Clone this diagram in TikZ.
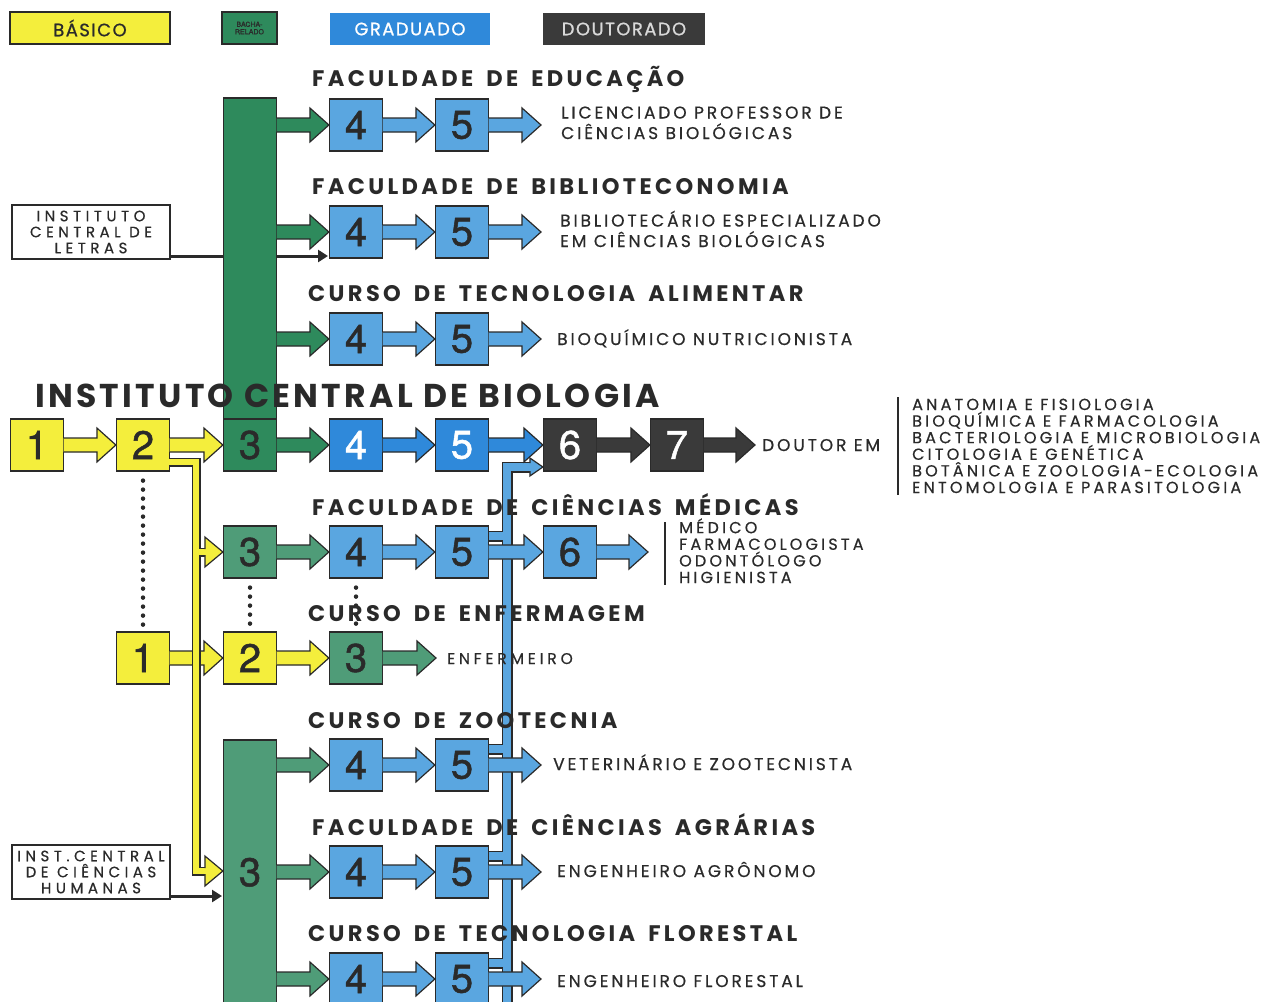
\documentclass[tikz,border=0pt]{standalone}
\usepackage{fontspec}
\setmainfont{Poppins}
\newfontfamily\numf{TeX Gyre Heros}[FakeBold=1.2]
\newfontfamily\titf{Poppins}[LetterSpace=15,WordSpace=1.6]
\newfontfamily\bigf{Poppins}[LetterSpace=10]
\newfontfamily\outf{Poppins}[LetterSpace=17,FakeBold=0.6]
\newfontfamily\lstf{Poppins}[LetterSpace=20,FakeBold=0.5]
\newfontfamily\sidf{Poppins}[LetterSpace=30,FakeBold=0.5]
\newfontfamily\legf{Poppins}[LetterSpace=8,FakeBold=0.8]
\usetikzlibrary{calc,arrows.meta}
\definecolor{ol}{HTML}{2A2A2A}
\definecolor{cy}{HTML}{F4EE3C}
\definecolor{cgd}{HTML}{2E8A5C}
\definecolor{cgm}{HTML}{4F9C78}
\definecolor{cbl}{HTML}{5AA6E0}
\definecolor{cbb}{HTML}{2F89DA}
\definecolor{cdk}{HTML}{3A3A3A}
\pgfdeclarelayer{back}
\pgfdeclarelayer{bg}
\pgfsetlayers{back,bg,main}
% block arrow: colour, start point, tip point
\newcommand\barr[3]{%
  \filldraw[fill=#1, draw=ol, line width=1.2pt, line join=miter]
    let \p1=#2, \p2=#3 in
    (\x1-0.6pt,\y1+7pt) -- (\x2-19pt,\y1+7pt) -- (\x2-19pt,\y1+17pt) -- (\x2,\y1)
    -- (\x2-19pt,\y1-17pt) -- (\x2-19pt,\y1-7pt) -- (\x1-0.6pt,\y1-7pt);}
% arrow head only: colour, tip, half height, length, shaft half
\newcommand\bhead[5]{%
  \filldraw[fill=#1, draw=ol, line width=1.2pt, line join=miter]
    let \p1=#2 in
    (\x1-#4,\y1+#5) -- (\x1-#4,\y1+#3) -- (\x1,\y1) -- (\x1-#4,\y1-#3) -- (\x1-#4,\y1-#5);}
\begin{document}
\begin{tikzpicture}[x=1pt,y=-1pt,
  box/.style={draw=ol, line width=1.2pt, minimum width=53pt, minimum height=52pt, inner sep=0pt,
     font=\numf\fontsize{40}{40}\selectfont, text=ol},
  ybox/.style={box, fill=cy},
  gdbox/.style={box, fill=cgd},
  gmbox/.style={box, fill=cgm},
  bbox/.style={box, fill=cbl},
  Bbox/.style={box, fill=cbb, text=white},
  dbox/.style={box, fill=cdk, text=white},
  side/.style={draw=ol, line width=1.2pt, minimum width=158pt, minimum height=54pt, inner sep=0pt,
     align=center, font=\sidf\fontsize{15}{16}\selectfont, text=ol},
  titl/.style={anchor=base west, inner sep=0pt, font=\titf\bfseries\fontsize{22.5}{24}\selectfont, text=ol},
  bigt/.style={anchor=base west, inner sep=0pt, font=\bigf\bfseries\fontsize{33}{36}\selectfont, text=ol},
  outc/.style={anchor=base west, inner sep=0pt, align=left, font=\outf\fontsize{17}{20.5}\selectfont, text=ol},
  listt/.style={anchor=base west, inner sep=0pt, align=left, font=\lstf\fontsize{16}{16.6}\selectfont, text=ol},
  leg/.style={minimum height=32pt, inner sep=0pt, font=\legf\fontsize{18}{18}\selectfont},
  dotl/.style={ol, line width=4.5pt, line cap=round, dash pattern=on 0pt off 9pt},
  darr/.style={ol, line width=3pt, -{Triangle[length=10pt,width=12pt]}},
]
\begin{pgfonlayer}{back}
\fill[white] (0,0) rectangle (1278,1002);
\end{pgfonlayer}
\useasboundingbox (0,0) rectangle (1278,1002);

% legend
\node[leg, draw=ol, line width=1.2pt, fill=cy, minimum width=160pt, text=ol] (lb) at (90,28) {BÁSICO};
\node[leg, draw=ol, line width=1.2pt, fill=cgd, minimum width=55pt, align=center,
      font=\numf\fontsize{7}{7.5}\selectfont, text=ol] (lg) at (249.5,28) {BACHA-\\RELADO};
\node[leg, fill=cbb, minimum width=160pt, text=white] (lgr) at (410,29) {GRADUADO};
\node[leg, fill=cdk, minimum width=162pt, text=white!85!black] (ld) at (624,29) {DOUTORADO};

% side boxes
\node[side] (let) at (91,232) {INSTITUTO\\CENTRAL DE\\LETRAS};
\node[side] (hum) at (91,872) {INST.CENTRAL\\DE CIÊNCIAS\\HUMANAS};

% green columns
\node[draw=ol, line width=1.2pt, fill=cgd, minimum width=53pt, minimum height=322pt, inner sep=0pt] (colA) at (250,259) {};
\node[draw=ol, line width=1.2pt, fill=cgm, minimum width=53pt, minimum height=272pt, inner sep=0pt,
      font=\numf\fontsize{40}{40}\selectfont, text=ol] (colB) at (250,876) {\raisebox{8pt}{3}};

% boxes
\node[bbox] (a4) at (356,125) {4};
\node[bbox] (a5) at (462,125) {5};
\node[bbox] (c4) at (356,232) {4};
\node[bbox] (c5) at (462,232) {5};
\node[bbox] (d4) at (356,339) {4};
\node[bbox] (d5) at (462,339) {5};
\node[ybox] (i1) at (37,445) {1};
\node[ybox] (i2) at (143,445) {2};
\node[gdbox] (i3) at (250,445) {3};
\node[Bbox] (i4) at (356,445) {4};
\node[Bbox] (i5) at (462,445) {5};
\node[dbox] (i6) at (570,445) {6};
\node[dbox] (i7) at (677,445) {7};
\node[gmbox] (m3) at (250,552) {3};
\node[bbox] (m4) at (356,552) {4};
\node[bbox] (m5) at (462,552) {5};
\node[bbox] (m6) at (570,552) {6};
\node[ybox] (e1) at (143,658) {1};
\node[ybox] (e2) at (250,658) {2};
\node[gmbox] (e3) at (356,658) {3};
\node[bbox] (z4) at (356,765) {4};
\node[bbox] (z5) at (462,765) {5};
\node[bbox] (g4) at (356,872) {4};
\node[bbox] (g5) at (462,872) {5};
\node[bbox] (f4) at (356,979) {4};
\node[bbox] (f5) at (462,979) {5};

% free ends
\coordinate (ta) at (541,125);
\coordinate (tc) at (541,232);
\coordinate (td) at (541,339);
\coordinate (ti) at (755,445);
\coordinate (tm) at (648,552);
\coordinate (te) at (436,658);
\coordinate (tz) at (541,765);
\coordinate (tg) at (541,872);
\coordinate (tf) at (541,979);

% background connectors
\begin{pgfonlayer}{bg}
\coordinate (lt) at (328,256);
\draw[darr] (let.east |- lt) -- (lt);
\coordinate (ht) at (222,896);
\draw[darr] (hum.east |- ht) -- (ht);
% blue feeder network
\coordinate (bv0) at (507,1012);
\coordinate (bv1) at (507,467);
\coordinate (bvh) at (531,467);
\coordinate (sm) at ($(m5.north east)+(-1,11)$);
\coordinate (sz) at ($(z5.north east)+(-1,11)$);
\coordinate (sg) at ($(g5.north east)+(-1,11)$);
\coordinate (sf) at ($(f5.north east)+(-1,11)$);
\draw[ol, line width=11pt, line join=miter] (bv0) -- (bv1) -- (bvh)
   (sm) -- (sm -| bv0) (sz) -- (sz -| bv0) (sg) -- (sg -| bv0) (sf) -- (sf -| bv0);
\draw[cbl, line width=8pt, line join=miter] (bv0) -- (bv1) -- (bvh)
   (sm) -- (sm -| bv0) (sz) -- (sz -| bv0) (sg) -- (sg -| bv0) (sf) -- (sf -| bv0);
\bhead{cbl}{(i6.west |- bvh)}{9pt}{13pt}{4pt}
\end{pgfonlayer}

% block arrows
\barr{cgd}{(colA.east |- a4)}{(a4.west)}
\barr{cbl}{(a4.east)}{(a5.west)}
\barr{cbl}{(a5.east)}{(ta)}
\barr{cgd}{(colA.east |- c4)}{(c4.west)}
\barr{cbl}{(c4.east)}{(c5.west)}
\barr{cbl}{(c5.east)}{(tc)}
\barr{cgd}{(colA.east |- d4)}{(d4.west)}
\barr{cbl}{(d4.east)}{(d5.west)}
\barr{cbl}{(d5.east)}{(td)}
\barr{cy}{(i1.east)}{(i2.west)}
\barr{cy}{(i2.east)}{(i3.west)}
\barr{cgd}{(i3.east)}{(i4.west)}
\barr{cbb}{(i4.east)}{(i5.west)}
\barr{cbb}{(i5.east)}{(i6.west)}
\barr{cdk}{(i6.east)}{(i7.west)}
\barr{cdk}{(i7.east)}{(ti)}
\barr{cgm}{(m3.east)}{(m4.west)}
\barr{cbl}{(m4.east)}{(m5.west)}
\barr{cbl}{(m5.east)}{(m6.west)}
\barr{cbl}{(m6.east)}{(tm)}
\barr{cy}{(e1.east)}{(e2.west)}
\barr{cy}{(e2.east)}{(e3.west)}
\barr{cgm}{(e3.east)}{(te)}
\barr{cgm}{(colB.east |- z4)}{(z4.west)}
\barr{cbl}{(z4.east)}{(z5.west)}
\barr{cbl}{(z5.east)}{(tz)}
\barr{cgm}{(colB.east |- g4)}{(g4.west)}
\barr{cbl}{(g4.east)}{(g5.west)}
\barr{cbl}{(g5.east)}{(tg)}
\barr{cgm}{(colB.east |- f4)}{(f4.west)}
\barr{cbl}{(f4.east)}{(f5.west)}
\barr{cbl}{(f5.east)}{(tf)}

% yellow network
\coordinate (ya) at (196,462);
\coordinate (yb) at (196,871);
\coordinate (ym) at (196,552);
\draw[ol, line width=9pt, line join=miter] ($(i2.east |- ya)+(-1,0)$) -- (ya) -- (yb) -- ($(colB.west |- yb)+(-18,0)$)
   (ym) -- ($(m3.west)+(-18,0)$);
\draw[cy, line width=6pt, line join=miter] ($(i2.east |- ya)+(-1,0)$) -- (ya) -- (yb) -- ($(colB.west |- yb)+(-18,0)$)
   (ym) -- ($(m3.west)+(-18,0)$);
\bhead{cy}{(colB.west |- yb)}{15pt}{18pt}{3pt}
\bhead{cy}{(m3.west)}{15pt}{18pt}{3pt}

% dotted links
\draw[dotl] ($(i2.south)+(0,9)$) -- ($(e1.north)+(0,-6)$);
\draw[dotl] ($(m3.south)+(0,9)$) -- ($(e2.north)+(0,-6)$);
\draw[dotl] ($(m4.south)+(0,9)$) -- ($(e3.north)+(0,-6)$);

% titles
\node[titl] (t1) at (312,86) {FACULDADE DE EDUCAÇÃO};
\node[titl] (t2) at (312,194) {FACULDADE DE BIBLIOTECONOMIA};
\node[titl] (t3) at (308,301) {CURSO DE TECNOLOGIA ALIMENTAR};
\node[bigt] (t4) at (35,407) {INSTITUTO CENTRAL DE BIOLOGIA};
\node[titl] (t5) at (312,515) {FACULDADE DE CIÊNCIAS MÉDICAS};
\node[titl] (t6) at (308,621) {CURSO DE ENFERMAGEM};
\node[titl] (t7) at (308,728) {CURSO DE ZOOTECNIA};
\node[titl] (t8) at (312,835) {FACULDADE DE CIÊNCIAS AGRÁRIAS};
\node[titl] (t9) at (308,941) {CURSO DE TECNOLOGIA FLORESTAL};

% outcomes (base = last line)
\node[outc] (o1) at (561,139) {LICENCIADO PROFESSOR DE\\CIÊNCIAS BIOLÓGICAS};
\node[outc] (o2) at (560,247) {BIBLIOTECÁRIO ESPECIALIZADO\\EM CIÊNCIAS BIOLÓGICAS};
\node[outc] (o3) at (557,345) {BIOQUÍMICO NUTRICIONISTA};
\node[outc] (o4) at (762,451) {DOUTOR EM};
\node[outc, font=\outf\fontsize{15.5}{16}\selectfont\addfontfeature{LetterSpace=25}] (o5) at (447,664) {ENFERMEIRO};
\node[outc] (o6) at (553,770) {VETERINÁRIO E ZOOTECNISTA};
\node[outc] (o7) at (557,877) {ENGENHEIRO AGRÔNOMO};
\node[outc] (o8) at (557,987) {ENGENHEIRO FLORESTAL};

% lists
\draw[ol, line width=1.8pt] (898,397) -- (898,495);
\node[listt] (l1) at (912,493) {ANATOMIA E FISIOLOGIA\\BIOQUÍMICA E FARMACOLOGIA\\BACTERIOLOGIA E MICROBIOLOGIA\\CITOLOGIA E GENÉTICA\\BOTÂNICA E ZOOLOGIA-ECOLOGIA\\ENTOMOLOGIA E PARASITOLOGIA};
\draw[ol, line width=1.8pt] (665,522) -- (665,585);
\node[listt] (l2) at (679,583) {MÉDICO\\FARMACOLOGISTA\\ODONTÓLOGO\\HIGIENISTA};
\end{tikzpicture}
\end{document}
